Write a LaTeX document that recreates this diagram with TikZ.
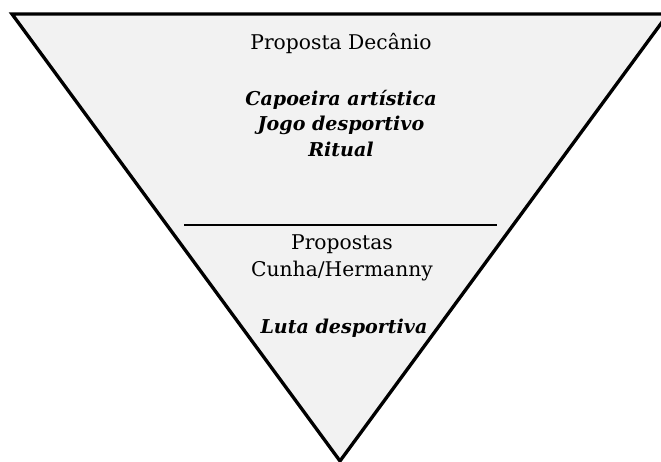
\documentclass[tikz,border=0pt]{standalone}
\usepackage{fontspec}
\setmainfont{DejaVu Serif}
\definecolor{funnelgray}{HTML}{F2F2F2}
\tikzset{
    label text/.style={font=\fontsize{15.2}{19.5}\selectfont, inner sep=0pt, anchor=base},
    strong text/.style={label text, font=\fontsize{14.3}{19.5}\selectfont\bfseries\itshape}
}

\begin{document}
\begin{tikzpicture}[x=0.75pt, y=-0.75pt, line join=miter]
    \useasboundingbox (0,0) rectangle (661,461);
    \clip (0,0) rectangle (661,461);

    % funnel
    \draw[line width=2.5pt, fill=funnelgray] (12,14) -- (668,14) -- (340,461) -- cycle;
    \draw[line width=1.5pt] (184,225) -- (497,225);

    % upper part
    \node[label text] (decanio) at (341,49) {Proposta Decânio};
    \node[strong text] (artistica) at (341,105) {Capoeira artística};
    \node[strong text] (jogo) at (341,130) {Jogo desportivo};
    \node[strong text] (ritual) at (341,156) {Ritual};

    % lower part
    \node[label text] (propostas) at (342,249) {Propostas};
    \node[label text] (cunha) at (342,276) {Cunha/Hermanny};
    \node[strong text] (luta) at (344,333) {Luta desportiva};
\end{tikzpicture}
\end{document}
